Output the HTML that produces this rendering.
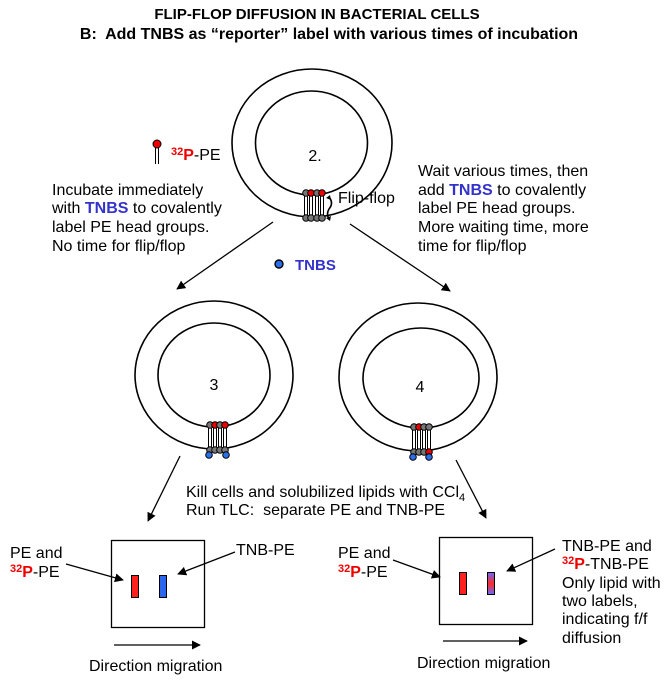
<!DOCTYPE html>
<html><head><meta charset="utf-8"><style>
html,body{margin:0;padding:0;background:#fff;}
svg{display:block;font-family:"Liberation Sans",Arial,sans-serif;}
</style></head><body>
<svg width="670" height="680" viewBox="0 0 670 680" xmlns="http://www.w3.org/2000/svg">
<defs>
<marker id="ah" viewBox="0 0 10 10" refX="9" refY="5" markerWidth="9" markerHeight="9" markerUnits="userSpaceOnUse" orient="auto"><path d="M0,0 L10,5 L0,10 z" fill="#000"/></marker>
<linearGradient id="gr" x1="0" y1="0" x2="0" y2="1"><stop offset="0" stop-color="#6a6aff"/><stop offset="0.5" stop-color="#ff2a2a"/><stop offset="1" stop-color="#6a6aff"/></linearGradient>
</defs>
<g text-anchor="middle" font-weight="bold">
<text x="317" y="19" font-size="15">FLIP-FLOP DIFFUSION IN BACTERIAL CELLS</text>
<text x="329" y="39" font-size="16">B:&#160; Add TNBS as “reporter” label with various times of incubation</text>
</g>
<g fill="none" stroke="#000" stroke-width="1.6">
<ellipse cx="312" cy="143" rx="80" ry="74"/>
<ellipse cx="311.5" cy="143" rx="56" ry="52"/>
<ellipse cx="214" cy="375" rx="79" ry="74"/>
<ellipse cx="214" cy="375" rx="56" ry="52"/>
<ellipse cx="418" cy="377" rx="79" ry="74"/>
<ellipse cx="421" cy="378" rx="58" ry="50"/>
</g>
<g stroke="#000" stroke-width="1">
<g>
<path d="M304.5 193V218M307.5 193V218M309.5 193V218M312.5 193V218M315.5 193V218M318.5 193V218M320.5 193V218M323.5 193V218"/>
<circle cx="306" cy="193" r="3.3" fill="#777"/><circle cx="311" cy="193" r="3.3" fill="#e00"/><circle cx="317" cy="193" r="3.3" fill="#777"/><circle cx="322" cy="193" r="3.3" fill="#e00"/>
<circle cx="306" cy="218" r="3.3" fill="#777"/><circle cx="311" cy="218" r="3.3" fill="#777"/><circle cx="317" cy="218" r="3.3" fill="#777"/><circle cx="322" cy="218" r="3.3" fill="#777"/>
</g>
<g>
<path d="M208.5 425V450M211.5 425V450M213.5 425V450M216.5 425V450M218.5 425V450M221.5 425V450M223.5 425V450M226.5 425V450"/>
<circle cx="210" cy="425" r="3.3" fill="#777"/><circle cx="215" cy="425" r="3.3" fill="#e00"/><circle cx="220" cy="425" r="3.3" fill="#777"/><circle cx="225" cy="425" r="3.3" fill="#e00"/>
<circle cx="210" cy="450" r="3.3" fill="#777"/><circle cx="215" cy="450" r="3.3" fill="#777"/><circle cx="220" cy="450" r="3.3" fill="#777"/><circle cx="225" cy="450" r="3.3" fill="#777"/>
<circle cx="209" cy="455" r="3.3" fill="#2a6ee8"/><circle cx="226" cy="455" r="3.3" fill="#2a6ee8"/>
</g>
<g>
<path d="M412.5 427V452M415.5 427V452M417.5 427V452M420.5 427V452M422.5 427V452M425.5 427V452M427.5 427V452M430.5 427V452"/>
<circle cx="414" cy="427" r="3.3" fill="#777"/><circle cx="419" cy="427" r="3.3" fill="#e00"/><circle cx="424" cy="427" r="3.3" fill="#777"/><circle cx="429" cy="427" r="3.3" fill="#777"/>
<circle cx="414" cy="452" r="3.3" fill="#777"/><circle cx="419" cy="452" r="3.3" fill="#777"/><circle cx="424" cy="452" r="3.3" fill="#777"/><circle cx="429" cy="452" r="3.3" fill="#e00"/>
<circle cx="413" cy="457" r="3.3" fill="#2a6ee8"/><circle cx="429" cy="457" r="3.3" fill="#2a6ee8"/>
</g>
<path d="M155.5 148V164M158.5 148V164"/>
<circle cx="157" cy="144" r="4" fill="#e00"/>
<circle cx="279" cy="264" r="4" fill="#2a6ee8" stroke-width="1.4"/>
</g>
<path d="M329 197 q5 6 0 12 q-3 5 0 10" fill="none" stroke="#000" stroke-width="1.6"/>
<path d="M326 198 l4 -3 l1 5z M326 218 l4 3 l1 -5z" fill="#000"/>
<text x="338" y="203" font-size="16">Flip-flop</text>
<text x="315" y="161" font-size="16" text-anchor="middle">2.</text>
<text x="214" y="390" font-size="16" text-anchor="middle">3</text>
<text x="420" y="392" font-size="16" text-anchor="middle">4</text>
<text x="171" y="160" font-size="16"><tspan fill="#e00" font-weight="bold" font-size="11" dy="-5">32</tspan><tspan fill="#e00" font-weight="bold" font-size="16" dy="5">P</tspan>-PE</text>
<text x="295" y="270" font-size="15" font-weight="bold" fill="#3333cc">TNBS</text>
<g font-size="16">
<text x="52" y="195">Incubate immediately</text>
<text x="52" y="213">with <tspan fill="#3333cc" font-weight="bold">TNBS</tspan> to covalently</text>
<text x="52" y="232">label PE head groups.</text>
<text x="52" y="251">No time for flip/flop</text>
<text x="418" y="176">Wait various times, then</text>
<text x="418" y="195">add <tspan fill="#3333cc" font-weight="bold">TNBS</tspan> to covalently</text>
<text x="418" y="213">label PE head groups.</text>
<text x="418" y="232">More waiting time, more</text>
<text x="418" y="251">time for flip/flop</text>
<text x="186" y="497">Kill cells and solubilized lipids with CCl<tspan font-size="11" dy="4">4</tspan></text>
<text x="186" y="515">Run TLC:&#160; separate PE and TNB-PE</text>
</g>
<g stroke="#000" stroke-width="1.3" marker-end="url(#ah)">
<line x1="273" y1="222" x2="177" y2="289"/>
<line x1="350" y1="224" x2="450" y2="291"/>
<line x1="180" y1="456" x2="148" y2="521"/>
<line x1="456" y1="460" x2="486" y2="518"/>
<line x1="66" y1="564" x2="123" y2="580"/>
<line x1="235" y1="552" x2="178" y2="574"/>
<line x1="114" y1="645" x2="200" y2="645"/>
<line x1="393" y1="560" x2="440" y2="577"/>
<line x1="555" y1="549" x2="507" y2="571"/>
<line x1="443" y1="641" x2="527" y2="641"/>
</g>
<g fill="none" stroke="#000" stroke-width="1.3">
<rect x="111.5" y="540.5" width="93" height="87"/>
<rect x="439.5" y="537.5" width="93" height="87"/>
</g>
<g stroke="#000" stroke-width="1">
<rect x="131.5" y="575.5" width="7" height="22" fill="#ff2020"/>
<rect x="159.5" y="575.5" width="7" height="22" fill="#2a66ee"/>
<rect x="459.5" y="572.5" width="7" height="22" fill="#ff2020"/>
<rect x="487.5" y="572.5" width="7" height="22" fill="url(#gr)"/>
</g>
<g font-size="16">
<text x="10" y="558">PE and</text>
<text x="10" y="577"><tspan fill="#e00" font-weight="bold" font-size="11" dy="-5">32</tspan><tspan fill="#e00" font-weight="bold" font-size="16" dy="5">P</tspan>-PE</text>
<text x="236" y="555">TNB-PE</text>
<text x="89" y="671">Direction migration</text>
<text x="338" y="558">PE and</text>
<text x="338" y="577"><tspan fill="#e00" font-weight="bold" font-size="11" dy="-5">32</tspan><tspan fill="#e00" font-weight="bold" font-size="16" dy="5">P</tspan>-PE</text>
<text x="562" y="551">TNB-PE and</text>
<text x="562" y="569"><tspan fill="#e00" font-weight="bold" font-size="11" dy="-5">32</tspan><tspan fill="#e00" font-weight="bold" font-size="16" dy="5">P</tspan>-TNB-PE</text>
<text x="562" y="588">Only lipid with</text>
<text x="562" y="606">two labels,</text>
<text x="562" y="624">indicating f/f</text>
<text x="562" y="643">diffusion</text>
<text x="417" y="668">Direction migration</text>
</g>
</svg>
</body></html>
